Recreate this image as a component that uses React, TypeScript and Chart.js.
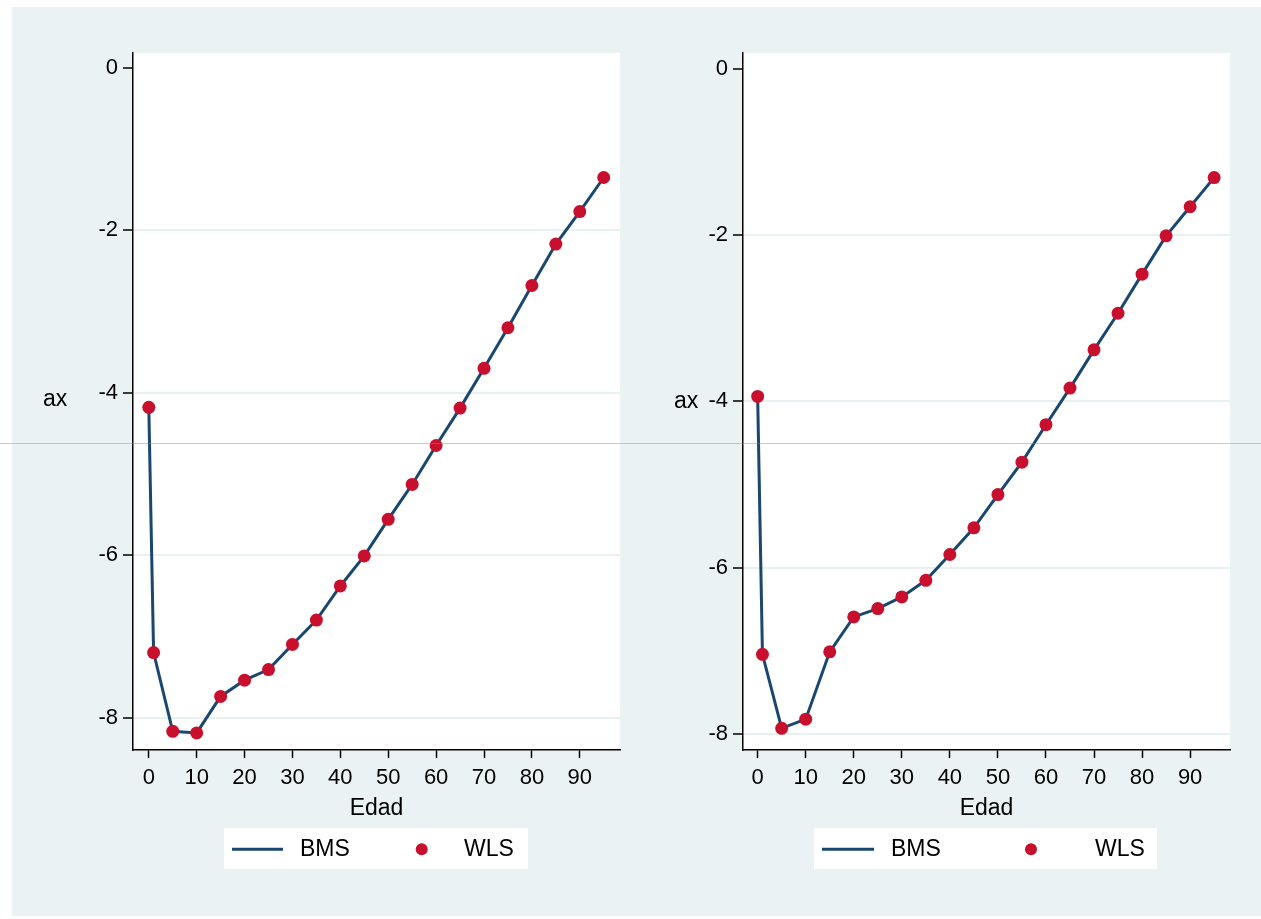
import React, { useEffect, useRef } from "react";
import { Chart, registerables } from "chart.js";

Chart.register(...registerables);

// Edades (x) y valores estimados de ax para cada panel
const edades = [0, 1, 5, 10, 15, 20, 25, 30, 35, 40, 45, 50, 55, 60, 65, 70, 75, 80, 85, 90, 95];
const axPanelIzq = [
  -4.18, -7.2, -8.17, -8.19, -7.74, -7.54, -7.41, -7.1, -6.8, -6.38, -6.01,
  -5.56, -5.13, -4.65, -4.19, -3.7, -3.2, -2.68, -2.17, -1.77, -1.35,
];
const axPanelDer = [
  -3.94, -7.04, -7.93, -7.82, -7.01, -6.59, -6.49, -6.35, -6.15, -5.84, -5.52,
  -5.12, -4.73, -4.28, -3.84, -3.38, -2.94, -2.47, -2.01, -1.66, -1.31,
];
const xTickValues = [0, 10, 20, 30, 40, 50, 60, 70, 80, 90];
const yTickValues = [-8, -6, -4, -2, 0];
const serieLinea = "BMS";
const seriePuntos = "WLS";
const tituloX = "Edad";
const tituloY = "ax";

const FONT = "'Liberation Sans', Arial, Helvetica, sans-serif";
const NAVY = "#1a476f";
const RED = "#c8102e";
const BG = "#eaf2f3";
const GRID = "#e8f0f2";

type LegendLayout = {
  box: [number, number, number, number];
  line: [number, number];
  text1: number;
  dot: number;
  text2: number;
  cy: number;
};

type PanelProps = {
  left: number;
  values: number[];
  xMin: number;
  xMax: number;
  yMin: number;
  yMax: number;
  legend: LegendLayout;
  axTitle: [number, number];
};

const panelDecor = {
  id: "panelDecor",
  beforeDraw(chart: any) {
    const { ctx, chartArea: a } = chart;
    ctx.save();
    ctx.fillStyle = "#ffffff";
    ctx.fillRect(a.left, a.top, a.right - a.left, a.bottom - a.top);
    ctx.restore();
  },
  afterDraw(chart: any, _args: any, opts: any) {
    const { ctx } = chart;
    const lg: LegendLayout = opts.legend;
    const ds = chart.data.datasets;
    ctx.save();
    // horizontal y-axis title
    ctx.fillStyle = "#000";
    ctx.font = `23px ${FONT}`;
    ctx.textAlign = "left";
    ctx.textBaseline = "alphabetic";
    ctx.fillText(opts.yTitle, opts.axTitle[0], opts.axTitle[1]);

    // legend box
    const [bx, by, bw, bh] = lg.box;
    ctx.fillStyle = "#ffffff";
    ctx.fillRect(bx, by, bw, bh);
    ctx.strokeStyle = ds[0].borderColor;
    ctx.lineWidth = 3;
    ctx.beginPath();
    ctx.moveTo(lg.line[0], lg.cy);
    ctx.lineTo(lg.line[1], lg.cy);
    ctx.stroke();
    ctx.fillStyle = ds[1].pointBackgroundColor;
    ctx.beginPath();
    ctx.arc(lg.dot, lg.cy, 6, 0, Math.PI * 2);
    ctx.fill();
    ctx.fillStyle = "#000";
    ctx.textBaseline = "middle";
    ctx.fillText(ds[0].label, lg.text1, lg.cy);
    ctx.fillText(ds[1].label, lg.text2, lg.cy);
    ctx.restore();
  },
};

function Panel({ left, values, xMin, xMax, yMin, yMax, legend, axTitle }: PanelProps) {
  const ref = useRef<HTMLCanvasElement>(null);

  useEffect(() => {
    if (!ref.current) return;
    const points = edades.map((x, i) => ({ x, y: values[i] }));
    const chart = new Chart(ref.current, {
      type: "line",
      data: {
        datasets: [
          {
            label: serieLinea,
            data: points,
            borderColor: NAVY,
            backgroundColor: NAVY,
            borderWidth: 3,
            pointRadius: 0,
            tension: 0,
            order: 1,
          },
          {
            label: seriePuntos,
            data: points,
            showLine: false,
            borderColor: RED,
            backgroundColor: RED,
            pointBackgroundColor: RED,
            pointBorderColor: RED,
            pointBorderWidth: 0,
            pointRadius: 6.5,
            order: 0,
          },
        ],
      },
      options: {
        responsive: false,
        animation: false,
        events: [],
        layout: { padding: { left: 0, right: 16, top: 46, bottom: 0 } },
        plugins: {
          legend: { display: false },
          tooltip: { enabled: false },
          panelDecor: { legend, axTitle, yTitle: tituloY },
        } as any,
        scales: {
          x: {
            type: "linear",
            min: xMin,
            max: xMax,
            afterBuildTicks: (s: any) => {
              s.ticks = xTickValues.map((v) => ({ value: v }));
            },
            afterFit: (s: any) => {
              s.height = 166;
            },
            ticks: {
              font: { family: FONT, size: 22 },
              color: "#000",
              padding: 7,
              autoSkip: false,
              maxRotation: 0,
            },
            grid: {
              drawOnChartArea: false,
              drawTicks: true,
              tickLength: 8,
              tickColor: "#000",
              tickWidth: 1.5,
            },
            border: { display: true, color: "#000", width: 1.5 },
            title: {
              display: true,
              text: tituloX,
              color: "#000",
              font: { family: FONT, size: 23 },
              padding: { top: 0, bottom: 94 },
            },
          },
          y: {
            type: "linear",
            min: yMin,
            max: yMax,
            afterBuildTicks: (s: any) => {
              s.ticks = yTickValues.map((v) => ({ value: v }));
            },
            afterFit: (s: any) => {
              s.width = 121;
            },
            ticks: {
              font: { family: FONT, size: 22 },
              color: "#000",
              padding: 5,
            },
            grid: {
              color: (c: any) => (c.tick && c.tick.value === 0 ? "rgba(0,0,0,0)" : GRID),
              lineWidth: 2,
              drawTicks: true,
              tickLength: 10,
              tickColor: "#000",
              tickWidth: 1.5,
            },
            border: { display: true, color: "#000", width: 1.5 },
          },
        },
      },
      plugins: [panelDecor],
    } as any);
    return () => chart.destroy();
  }, []);

  return (
    <canvas
      ref={ref}
      width={624}
      height={909}
      style={{ position: "absolute", left, top: 0, width: 624, height: 909 }}
    />
  );
}

export default function App() {
  return (
    <div>
      <div
        style={{
          position: "absolute",
          left: 12,
          top: 7,
          width: 1249,
          height: 909,
          background: BG,
        }}
      >
        <Panel
          left={0}
          values={axPanelIzq}
          xMin={-3.3}
          xMax={98.4}
          yMin={-8.4}
          yMax={0.183}
          legend={{ box: [212, 821, 304, 41], line: [220, 271], text1: 288, dot: 409.7, text2: 452, cy: 842.3 }}
          axTitle={[31, 399]}
        />
        <Panel
          left={610}
          values={axPanelDer}
          xMin={-3.05}
          xMax={98.3}
          yMin={-8.19}
          yMax={0.188}
          legend={{ box: [192, 821, 343, 41], line: [200, 252], text1: 269, dot: 409, text2: 473, cy: 842.3 }}
          axTitle={[52, 400.7]}
        />
      </div>
      <div
        style={{
          position: "absolute",
          left: 0,
          top: 443,
          width: 1261,
          height: 1,
          background: "rgba(140,140,140,0.45)",
          pointerEvents: "none",
        }}
      />
    </div>
  );
}
